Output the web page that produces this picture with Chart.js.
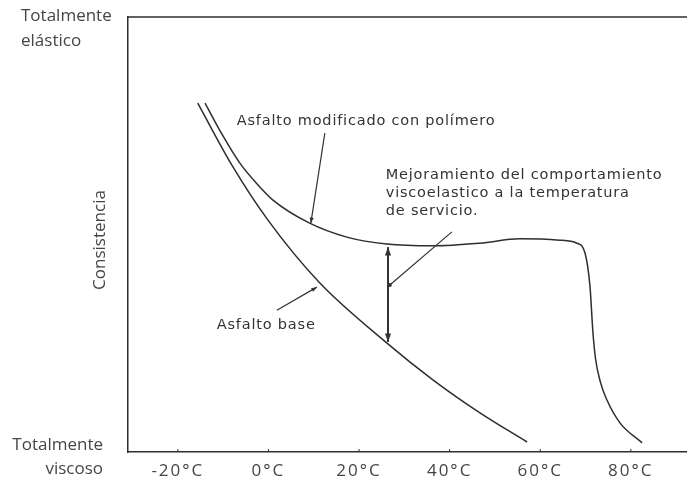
<!DOCTYPE html>
<html>
<head>
<meta charset="utf-8">
<script src="https://cdn.jsdelivr.net/npm/chart.js@4.4.1/dist/chart.umd.min.js"></script>
<style>
  html, body { margin: 0; padding: 0; background: #fff; }
  #wrap { width: 687px; height: 482px; }
</style>
</head>
<body>
<div id="wrap"><canvas id="grafico"></canvas></div>
<script>
// eje x (temperatura)
const ticksTemp = [-20, 0, 20, 40, 60, 80];

// Asfalto base
const baseTemp = [-15.6, -8.1, -0.1, 11.3, 26.1, 36.3, 46.7, 57.1];
const baseCons = [80.2, 66.0, 53.3, 38.9, 25.1, 16.6, 9.0, 2.3];

// Asfalto modificado con polimero
const modTemp = [-14.0, -10.0, -6.3, -2.5, 1.0, 9.1, 17.3, 26.1, 36.3, 46.7, 55.5, 64.3, 68.1, 69.9, 71.0, 71.6, 72.2, 73.3, 74.7, 77.6, 82.5];
const modCons = [80.2, 72.6, 66.4, 61.6, 57.9, 52.6, 49.4, 47.8, 47.4, 48.0, 49.0, 48.7, 48.0, 45.7, 37.9, 28.0, 21.5, 16.0, 12.0, 6.7, 2.1];

const colorLinea = '#2e2e2e';
const colorTexto = '#454545';
const fuenteEje = '"Open Sans", sans-serif';
const fuenteNota = '"DejaVu Sans", sans-serif';

function flecha(ctx, x1, y1, x2, y2, tam) {
    const ang = Math.atan2(y2 - y1, x2 - x1);
    ctx.beginPath();
    ctx.moveTo(x2, y2);
    ctx.lineTo(x2 - tam * Math.cos(ang - 0.35), y2 - tam * Math.sin(ang - 0.35));
    ctx.lineTo(x2 - tam * Math.cos(ang + 0.35), y2 - tam * Math.sin(ang + 0.35));
    ctx.closePath();
    ctx.fill();
}

// espaciado de letras para las etiquetas del eje x
const espaciado = {
    id: 'espaciado',
    beforeDraw(chart) { chart.ctx.letterSpacing = '2px'; },
    beforeDatasetsDraw(chart) { chart.ctx.letterSpacing = '0px'; }
};

const notas = {
    id: 'notas',
    afterDraw(chart) {
        const ctx = chart.ctx;
        const area = chart.chartArea;
        const x = chart.scales.x;
        const y = chart.scales.y;
        const px = v => x.getPixelForValue(v);
        const py = v => y.getPixelForValue(v);

        ctx.save();
        ctx.letterSpacing = '0px';
        // marco superior
        ctx.strokeStyle = colorLinea;
        ctx.lineWidth = 1.5;
        ctx.beginPath();
        ctx.moveTo(area.left, area.top);
        ctx.lineTo(area.right, area.top);
        ctx.stroke();

        // marcas del eje x
        ctx.lineWidth = 1;
        ticksTemp.forEach(t => {
            ctx.beginPath();
            ctx.moveTo(px(t), area.bottom);
            ctx.lineTo(px(t), area.bottom - 3);
            ctx.stroke();
        });

        // textos del eje y
        ctx.fillStyle = colorTexto;
        ctx.font = '17px ' + fuenteEje;
        ctx.textBaseline = 'middle';
        ctx.textAlign = 'left';
        ctx.fillText('Totalmente', 21, 16);
        ctx.fillText('elástico', 21, 41);
        ctx.textAlign = 'right';
        ctx.fillText('Totalmente', 103, 445);
        ctx.fillText('viscoso', 103, 469);
        ctx.save();
        ctx.translate(100, 240);
        ctx.rotate(-Math.PI / 2);
        ctx.textAlign = 'center';
        ctx.fillText('Consistencia', 0, 0);
        ctx.restore();

        // anotaciones
        ctx.fillStyle = '#333';
        ctx.strokeStyle = '#333';
        ctx.font = '14.5px ' + fuenteNota;
        ctx.letterSpacing = '0.8px';
        ctx.textAlign = 'left';
        ctx.fillText('Asfalto modificado con polímero', px(-7.0), py(76.1));
        ctx.fillText('Mejoramiento del comportamiento', px(25.9), py(63.7));
        ctx.fillText('viscoelastico a la temperatura', px(25.9), py(59.5));
        ctx.fillText('de servicio.', px(25.9), py(55.4));
        ctx.fillText('Asfalto base', px(-11.4), py(29.2));
        ctx.letterSpacing = '0px';

        ctx.lineWidth = 1.2;
        // flecha asfalto modificado
        ctx.beginPath();
        ctx.moveTo(px(12.45), py(73.3));
        ctx.lineTo(px(9.36), py(52.6));
        ctx.stroke();
        flecha(ctx, px(12.45), py(73.3), px(9.36), py(52.6), 6);

        // flecha asfalto base
        ctx.beginPath();
        ctx.moveTo(px(1.86), py(32.6));
        ctx.lineTo(px(10.7), py(37.9));
        ctx.stroke();
        flecha(ctx, px(1.86), py(32.6), px(10.7), py(37.9), 6);

        // flecha doble entre curvas
        ctx.lineWidth = 2;
        ctx.beginPath();
        ctx.moveTo(px(26.4), py(47.1));
        ctx.lineTo(px(26.4), py(25.3));
        ctx.stroke();
        flecha(ctx, px(26.4), py(36), px(26.4), py(47.1), 9);
        flecha(ctx, px(26.4), py(36), px(26.4), py(25.3), 9);

        // linea del texto "Mejoramiento"
        ctx.lineWidth = 1.2;
        ctx.beginPath();
        ctx.moveTo(px(40.5), py(50.6));
        ctx.lineTo(px(26.8), py(38.4));
        ctx.stroke();
        ctx.beginPath();
        ctx.arc(px(26.8), py(38.4), 2, 0, Math.PI * 2);
        ctx.fill();
        ctx.restore();
    }
};

const data = {
    datasets: [{
        label: 'Asfalto base',
        data: baseTemp.map((t, i) => ({ x: t, y: baseCons[i] })),
        borderColor: colorLinea,
        borderWidth: 1.5,
        pointRadius: 0,
        cubicInterpolationMode: 'monotone'
    }, {
        label: 'Asfalto modificado con polímero',
        data: modTemp.map((t, i) => ({ x: t, y: modCons[i] })),
        borderColor: colorLinea,
        borderWidth: 1.5,
        pointRadius: 0,
        cubicInterpolationMode: 'monotone'
    }]
};

new Chart(document.getElementById('grafico'), {
    type: 'line',
    data: data,
    options: {
        responsive: true,
        maintainAspectRatio: false,
        animation: false,
        layout: {
            padding: { left: 128, right: 0, top: 17, bottom: 0 }
        },
        plugins: {
            legend: { display: false },
            tooltip: { enabled: false }
        },
        scales: {
            x: {
                type: 'linear',
                min: -31,
                max: 92.4,
                afterBuildTicks: axis => {
                    axis.ticks = ticksTemp.map(v => ({ value: v }));
                },
                afterFit: scale => { scale.height = 30; },
                ticks: {
                    padding: 9,
                    color: colorTexto,
                    font: { family: fuenteEje, size: 17 },
                    callback: value => value + '°C'
                },
                grid: { display: false, drawTicks: false },
                border: { display: true, color: colorLinea, width: 1.5 }
            },
            y: {
                min: 0,
                max: 100,
                ticks: { display: false },
                grid: { display: false, drawTicks: false },
                border: { display: true, color: colorLinea, width: 1.5 }
            }
        }
    },
    plugins: [espaciado, notas]
});
</script>
</body>
</html>
